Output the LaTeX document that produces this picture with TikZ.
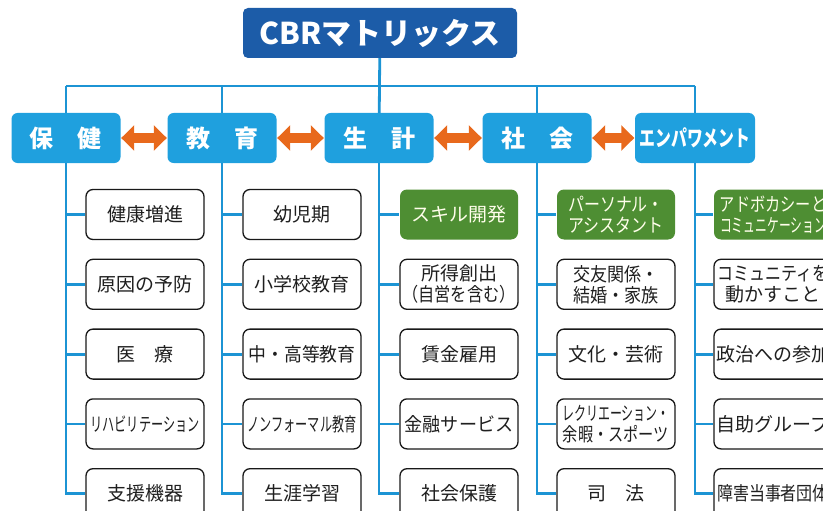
\documentclass[tikz,border=0pt]{standalone}
\usepackage{graphicx}
\usepackage{fontspec}
\setmainfont{Noto Sans CJK JP}
\usetikzlibrary{arrows.meta,positioning}
\definecolor{cbrnavy}{HTML}{1C5CA8}
\definecolor{cbrcyan}{HTML}{1FA0DE}
\definecolor{cbrline}{HTML}{1C94D4}
\definecolor{cbrgreen}{HTML}{4E8E33}
\definecolor{cbrorange}{HTML}{E8691C}
\newcommand{\narrow}[2]{\scalebox{#1}[1]{#2}}

\tikzset{
  kategori/.style={fill=cbrcyan, rounded corners=6pt, minimum width=109pt,
    minimum height=50pt, inner sep=0pt, text=white,
    font=\fontsize{24}{26}\selectfont\bfseries},
  subbox/.style={draw=black!90, line width=1.3pt, fill=white, rounded corners=7pt,
    minimum width=118pt, minimum height=50pt, inner sep=0pt, align=center,
    text=black!88, font=\fontsize{19}{21}\selectfont},
  subgreen/.style={subbox, draw=none, fill=cbrgreen, text=white!92!yellow,
    font=\fontsize{19}{21}\selectfont},
  garis/.style={cbrline, line width=2.8pt},
  panah/.style={{Triangle[width=25pt,length=13pt]}-{Triangle[width=25pt,length=13pt]},
    cbrorange, line width=10pt, shorten <=0.5pt, shorten >=0.5pt}
}

\begin{document}
\begin{tikzpicture}[x=1pt,y=-1pt]
  \useasboundingbox (0,0) rectangle (823,511);
  \clip (0,0) rectangle (823,511);

  % judul dan kategori
  \node[fill=cbrnavy, rounded corners=5pt, minimum width=274pt, minimum height=50pt,
    inner sep=0pt, text=white, font=\fontsize{30}{32}\selectfont\bfseries]
    (ttl) at (380,33) {CBRマトリックス};
  \coordinate (bus) at (379,86);

  \node[kategori] (hk) at (66,138)  {保　健};
  \node[kategori] (ky) at (222,138) {教　育};
  \node[kategori] (sk) at (379,138) {生　計};
  \node[kategori] (sh) at (537,138) {社　会};
  \node[kategori, minimum width=120pt] (ep) at (695,138)
    {\fontsize{22}{24}\selectfont\narrow{0.72}{エンパワメント}};

  \draw[panah] (hk.east) -- (ky.west);
  \draw[panah] (ky.east) -- (sk.west);
  \draw[panah] (sk.east) -- (sh.west);
  \draw[panah] (sh.east) -- (ep.west);

  % 保健
  \node[subbox] (s11) at (145,214.5) {健康増進};
  \node[subbox, below=18.5pt of s11] (s12) {原因の予防};
  \node[subbox, below=18.5pt of s12] (s13) {医　療};
  \node[subbox, below=18.5pt of s13] (s14) {\narrow{0.64}{リハビリテーション}};
  \node[subbox, below=18.5pt of s14] (s15) {支援機器};

  % 教育
  \node[subbox] (s21) at (302,214.5) {幼児期};
  \node[subbox, below=18.5pt of s21] (s22) {小学校教育};
  \node[subbox, below=18.5pt of s22] (s23) {\narrow{0.94}{中・高等教育}};
  \node[subbox, below=18.5pt of s23] (s24) {\narrow{0.64}{ノンフォーマル教育}};
  \node[subbox, below=18.5pt of s24] (s25) {生涯学習};

  % 生計
  \node[subgreen] (s31) at (459,214.5) {スキル開発};
  \node[subbox, below=18.5pt of s31] (s32) {所得創出\\\narrow{0.85}{（自営を含む）}};
  \node[subbox, below=18.5pt of s32] (s33) {賃金雇用};
  \node[subbox, below=18.5pt of s33] (s34) {\narrow{0.95}{金融サービス}};
  \node[subbox, below=18.5pt of s34] (s35) {社会保護};

  % 社会
  \node[subgreen] (s41) at (616,214.5) {\narrow{0.84}{パーソナル・}\\\narrow{0.84}{アシスタント}};
  \node[subbox, below=18.5pt of s41] (s42) {\narrow{0.9}{交友関係・}\\\narrow{0.9}{結婚・家族}};
  \node[subbox, below=18.5pt of s42] (s43) {文化・芸術};
  \node[subbox, below=18.5pt of s43] (s44) {\narrow{0.63}{レクリエーション・}\\\narrow{0.8}{余暇・スポーツ}};
  \node[subbox, below=18.5pt of s44] (s45) {司　法};

  % エンパワメント
  \node[subgreen] (s51) at (773,214.5) {\narrow{0.8}{アドボカシーと}\\\narrow{0.62}{コミュニケーション}};
  \node[subbox, below=18.5pt of s51] (s52) {\narrow{0.84}{コミュニティを}\\動かすこと};
  \node[subbox, below=18.5pt of s52] (s53) {政治への参加};
  \node[subbox, below=18.5pt of s53] (s54) {自助グループ};
  \node[subbox, below=18.5pt of s54] (s55) {\narrow{0.84}{障害当事者団体}};

  % garis penghubung
  \draw[garis] (ttl) -- (sk);
  \draw[garis] (hk |- bus) -- (ep |- bus);
  \foreach \k in {hk,ky,sh,ep} \draw[garis] (\k |- bus) -- (\k.north);
  \foreach \k/\i in {hk/1,ky/2,sk/3,sh/4,ep/5} {
    \draw[garis] (\k.south) |- (s\i5.west);
    \foreach \j in {1,...,4} \draw[garis] (\k.south |- s\i\j) -- (s\i\j.west);
  }
\end{tikzpicture}
\end{document}
